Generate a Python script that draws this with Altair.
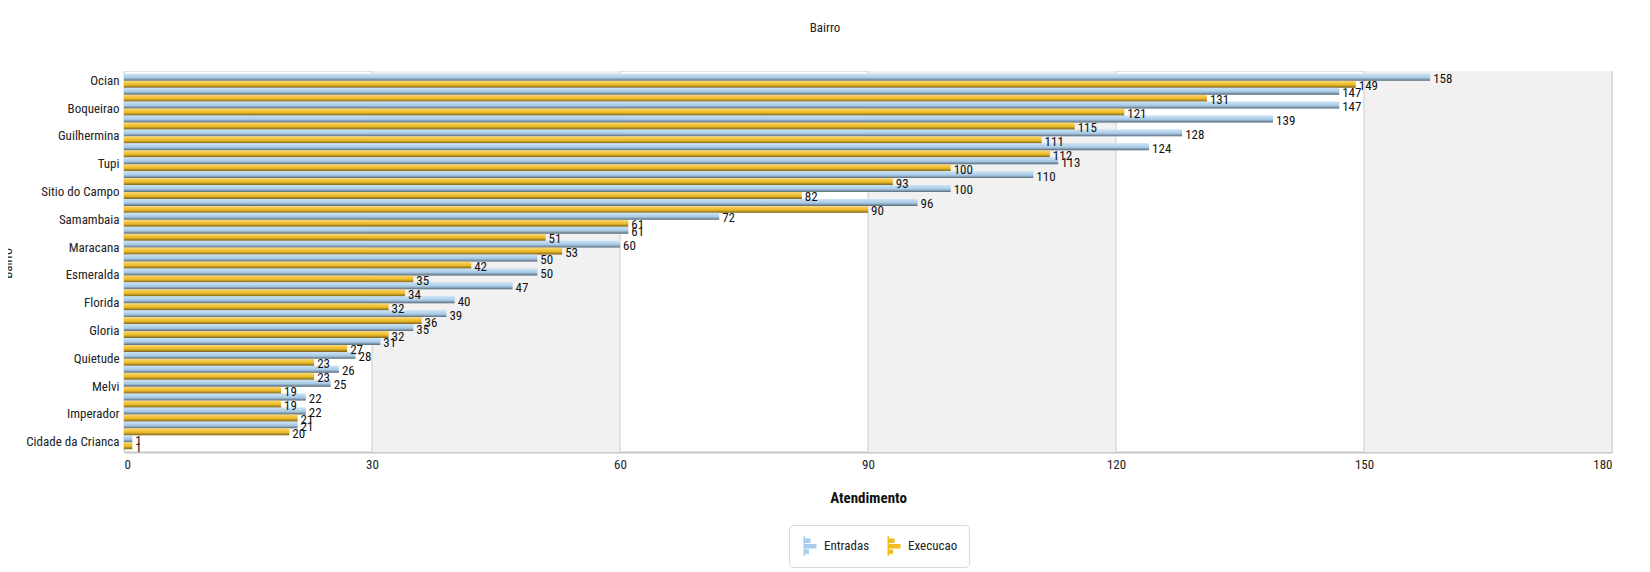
import json
import altair as alt
import pandas as pd

FONT = "Liberation Sans Narrow, Arial Narrow, Roboto Condensed, Roboto, sans-serif"

categories = [
    "Ocian", "Aviacao", "Boqueirao", "Mirim", "Guilhermina", "Caicara", "Tupi",
    "Real", "Sitio do Campo", "Solemar", "Samambaia", "Antartica", "Maracana",
    "Ribeiropolis", "Esmeralda", "Tude Bastos", "Florida", "Vila Sonia", "Gloria",
    "Anhanguera", "Quietude", "Nova Mirim", "Melvi", "Canto do Forte", "Imperador",
    "Xixova", "Cidade da Crianca",
]
entradas = [158, 147, 147, 139, 128, 124, 113, 110, 100, 96, 72, 61, 60, 50,
            50, 47, 40, 39, 35, 31, 28, 26, 25, 22, 22, 21, 1]
execucao = [149, 131, 121, 115, 111, 112, 100, 93, 82, 90, 61, 51, 53, 42,
            35, 34, 32, 36, 32, 27, 23, 23, 19, 19, 21, 20, 1]
labelled = [
    "Ocian", "Boqueirao", "Guilhermina", "Tupi", "Sitio do Campo", "Samambaia",
    "Maracana", "Esmeralda", "Florida", "Gloria", "Quietude", "Melvi",
    "Imperador", "Cidade da Crianca",
]
series_names = ["Entradas", "Execucao"]
series_colors = ["#a9cdea", "#f1bc1f"]
x_ticks = [0, 30, 60, 90, 120, 150, 180]
band_starts = [30, 90, 150]
band_ends = [60, 120, 180]

rows = []
for c, e, x in zip(categories, entradas, execucao):
    rows.append({"Bairro": c, "Serie": series_names[0], "Atendimento": e})
    rows.append({"Bairro": c, "Serie": series_names[1], "Atendimento": x})
df = pd.DataFrame(rows)
bands = pd.DataFrame({"start": band_starts, "end": band_ends})
ticks_df = pd.DataFrame({"t": x_ticks})

W, H = 1488, 381

x_scale = alt.Scale(domain=[0, 180], nice=False, zero=True)
label_expr = "indexof(" + json.dumps(labelled) + ", datum.value) >= 0 ? datum.value : ''"

x_enc = alt.X(
    "Atendimento:Q",
    scale=x_scale,
    axis=alt.Axis(
        values=x_ticks, title="Atendimento", grid=False, ticks=False,
        labelFont=FONT, labelFontSize=13, labelColor="#222", labelPadding=6,
        domainColor="#c8c8c8", domainWidth=2,
        titleFont=FONT, titleFontSize=15, titleFontWeight="bold",
        titleColor="#111", titlePadding=19,
    ),
)
y_enc = alt.Y(
    "Bairro:N",
    sort=categories,
    scale=alt.Scale(domain=categories, paddingInner=0, paddingOuter=0.2),
    axis=alt.Axis(
        title="Bairro", labelExpr=label_expr, ticks=False, domain=False,
        labelFont=FONT, labelFontSize=13, labelColor="#222", labelPadding=5,
        labelOverlap=False,
        titleFont=FONT, titleFontSize=13, titleFontWeight="normal",
        titleColor="#222", titleX=-110, titleY=192, titleAngle=270,
    ),
)
yoff = alt.YOffset(
    "Serie:N",
    scale=alt.Scale(domain=series_names, paddingInner=0, paddingOuter=0),
)

band_layer = alt.Chart(bands).mark_rect(color="#f1f1f1").encode(
    x=alt.X("start:Q", scale=x_scale),
    x2="end:Q",
)

grid_layer = alt.Chart(ticks_df).mark_rule(color="#cccccc", strokeWidth=1).encode(
    x=alt.X("t:Q", scale=x_scale),
)

bars = alt.Chart(df).mark_bar().encode(
    x=x_enc,
    y=y_enc,
    yOffset=yoff,
    color=alt.Color(
        "Serie:N",
        scale=alt.Scale(domain=series_names, range=series_colors),
        legend=alt.Legend(
            title=None, orient="none", legendX=665, legendY=454,
            direction="horizontal",
            symbolType="M-0.65,-1H-0.5V1H-0.65Z M-0.5,-0.75H0.05V-0.3H-0.5Z "
                       "M-0.5,-0.2H0.65V0.25H-0.5Z M-0.5,0.35H-0.1V0.8H-0.5Z",
            symbolSize=400, symbolStrokeWidth=0,
            labelFont=FONT, labelFontSize=13, labelColor="#222", labelOffset=4,
            columnPadding=14, padding=11, strokeColor="#d8d8d8",
            cornerRadius=4, fillColor="white",
        ),
    ),
)

shade = alt.Chart(df).mark_bar(
    color=alt.LinearGradient(
        gradient="linear", x1=0, x2=0, y1=0, y2=1,
        stops=[
            alt.GradientStop(color="rgba(255,255,255,0.45)", offset=0),
            alt.GradientStop(color="rgba(255,255,255,0.05)", offset=0.45),
            alt.GradientStop(color="rgba(40,40,40,0.18)", offset=0.7),
            alt.GradientStop(color="rgba(40,40,40,0.6)", offset=1),
        ],
    )
).encode(x="Atendimento:Q", y="Bairro:N", yOffset="Serie:N")

labels = alt.Chart(df).mark_text(
    align="left", baseline="middle", dx=3, dy=2,
    font=FONT, fontSize=13, color="#111",
).encode(
    x="Atendimento:Q", y="Bairro:N", yOffset="Serie:N",
    text="Atendimento:Q",
)

chart = alt.layer(band_layer, grid_layer, bars, shade, labels).properties(
    width=W,
    height=H,
    padding={"left": 116, "top": 63, "right": 30, "bottom": 119},
    autosize=alt.AutoSizeParams(type="none"),
    title=alt.TitleParams(
        "Bairro", anchor="middle", font=FONT, fontSize=13,
        fontWeight="normal", color="#222", offset=36, dx=-43,
    ),
).configure_view(stroke="#e2e2e2", fill="white")

chart.save("out.html", embed_options={"renderer": "svg", "actions": False})
